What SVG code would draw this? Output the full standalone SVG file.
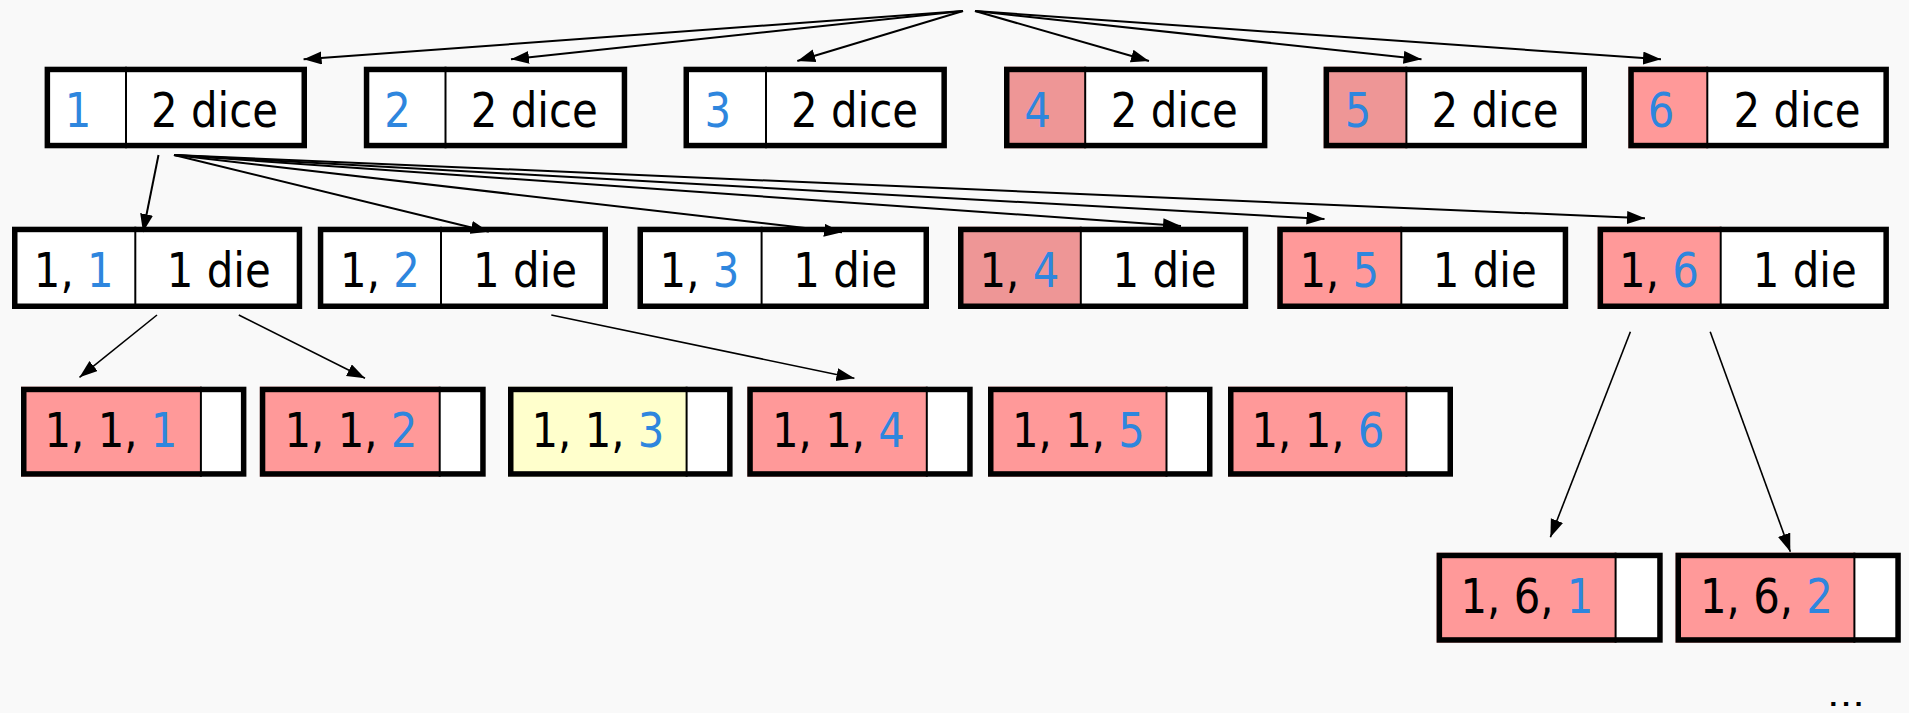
<svg xmlns="http://www.w3.org/2000/svg" width="1909" height="713" viewBox="0 0 1909 713">
<defs>
<marker id="ah" markerUnits="userSpaceOnUse" markerWidth="20" markerHeight="14" refX="18" refY="6.5" orient="auto">
<path d="M0,0 L18,6.5 L0,13 z" fill="#000"/>
</marker>
<style>
.bg{fill:#F9F9F9}
.w{fill:#FFFFFF}
.pk{fill:#FF9999}
.pd{fill:#EE9696}
.yl{fill:#FFFFCC}
.box{fill:none;stroke:#000;stroke-width:5.5;stroke-linejoin:miter}
.dv{stroke:#000;stroke-width:2}
text{font-family:"DejaVu Sans","Liberation Sans",sans-serif;font-size:47.5px;fill:#000;text-anchor:middle}
text.s{text-anchor:start}
.b{fill:#2E86DE}
.c{fill:none;stroke:#000;stroke-width:2;marker-end:url(#ah)}
.c2{fill:none;stroke:#000;stroke-width:1.6;marker-end:url(#ah)}
</style>
</defs>
<rect class="bg" x="0" y="0" width="1909" height="713"/>

<!-- Row 1 -->
<g id="r1n1">
<rect class="w" x="44.6" y="66.7" width="262.4" height="81.6"/>
<line class="dv" x1="126" y1="66.7" x2="126" y2="148.3"/>
<rect class="box" x="47.35" y="69.45" width="256.9" height="76.1"/>
<text class="b" x="78" y="127.3" textLength="26.6" lengthAdjust="spacingAndGlyphs">1</text>
<text x="214.5" y="127.3" textLength="127" lengthAdjust="spacingAndGlyphs">2 dice</text>
</g>
<g id="r1n2">
<rect class="w" x="363.8" y="66.7" width="263.4" height="81.6"/>
<line class="dv" x1="445.5" y1="66.7" x2="445.5" y2="148.3"/>
<rect class="box" x="366.55" y="69.45" width="257.9" height="76.1"/>
<text class="b" x="397.6" y="127.3" textLength="26.6" lengthAdjust="spacingAndGlyphs">2</text>
<text x="534.3" y="127.3" textLength="127" lengthAdjust="spacingAndGlyphs">2 dice</text>
</g>
<g id="r1n3">
<rect class="w" x="683.5" y="66.7" width="263.4" height="81.6"/>
<line class="dv" x1="766" y1="66.7" x2="766" y2="148.3"/>
<rect class="box" x="686.25" y="69.45" width="257.9" height="76.1"/>
<text class="b" x="717.7" y="127.3" textLength="26.6" lengthAdjust="spacingAndGlyphs">3</text>
<text x="854.5" y="127.3" textLength="127" lengthAdjust="spacingAndGlyphs">2 dice</text>
</g>
<g id="r1n4">
<rect class="w" x="1004" y="66.7" width="263.4" height="81.6"/>
<rect class="pd" x="1004" y="66.7" width="81.2" height="81.6"/>
<line class="dv" x1="1085.2" y1="66.7" x2="1085.2" y2="148.3"/>
<rect class="box" x="1006.75" y="69.45" width="257.9" height="76.1"/>
<text class="b" x="1037.6" y="127.3" textLength="26.6" lengthAdjust="spacingAndGlyphs">4</text>
<text x="1174.3" y="127.3" textLength="127" lengthAdjust="spacingAndGlyphs">2 dice</text>
</g>
<g id="r1n5">
<rect class="w" x="1323.6" y="66.7" width="263.4" height="81.6"/>
<rect class="pd" x="1323.6" y="66.7" width="82.8" height="81.6"/>
<line class="dv" x1="1406.4" y1="66.7" x2="1406.4" y2="148.3"/>
<rect class="box" x="1326.35" y="69.45" width="257.9" height="76.1"/>
<text class="b" x="1358" y="127.3" textLength="26.6" lengthAdjust="spacingAndGlyphs">5</text>
<text x="1495" y="127.3" textLength="127" lengthAdjust="spacingAndGlyphs">2 dice</text>
</g>
<g id="r1n6">
<rect class="w" x="1628.3" y="66.7" width="260.6" height="81.6"/>
<rect class="pk" x="1628.3" y="66.7" width="79" height="81.6"/>
<line class="dv" x1="1707.3" y1="66.7" x2="1707.3" y2="148.3"/>
<rect class="box" x="1631.05" y="69.45" width="255.1" height="76.1"/>
<text class="b" x="1661" y="127.3" textLength="26.6" lengthAdjust="spacingAndGlyphs">6</text>
<text x="1797" y="127.3" textLength="127" lengthAdjust="spacingAndGlyphs">2 dice</text>
</g>

<!-- Row 2 -->
<g id="r2n1">
<rect class="w" x="12" y="226.7" width="290.2" height="82.3"/>
<line class="dv" x1="135.3" y1="226.7" x2="135.3" y2="309"/>
<rect class="box" x="14.75" y="229.45" width="284.7" height="76.8"/>
<text class="s" x="33.8" y="286.7" textLength="39.9" lengthAdjust="spacingAndGlyphs">1,</text>
<text class="s b" x="87" y="286.7" textLength="26.6" lengthAdjust="spacingAndGlyphs">1</text>
<text x="218.8" y="286.7" textLength="104" lengthAdjust="spacingAndGlyphs">1 die</text>
</g>
<g id="r2n2">
<rect class="w" x="317.8" y="226.7" width="290.2" height="82.3"/>
<line class="dv" x1="441" y1="226.7" x2="441" y2="309"/>
<rect class="box" x="320.55" y="229.45" width="284.7" height="76.8"/>
<text class="s" x="340.1" y="286.7" textLength="39.9" lengthAdjust="spacingAndGlyphs">1,</text>
<text class="s b" x="393.3" y="286.7" textLength="26.6" lengthAdjust="spacingAndGlyphs">2</text>
<text x="525" y="286.7" textLength="104" lengthAdjust="spacingAndGlyphs">1 die</text>
</g>
<g id="r2n3">
<rect class="w" x="637.5" y="226.7" width="291.5" height="82.3"/>
<line class="dv" x1="761.6" y1="226.7" x2="761.6" y2="309"/>
<rect class="box" x="640.25" y="229.45" width="286" height="76.8"/>
<text class="s" x="659.6" y="286.7" textLength="39.9" lengthAdjust="spacingAndGlyphs">1,</text>
<text class="s b" x="712.8" y="286.7" textLength="26.6" lengthAdjust="spacingAndGlyphs">3</text>
<text x="845.3" y="286.7" textLength="104" lengthAdjust="spacingAndGlyphs">1 die</text>
</g>
<g id="r2n4">
<rect class="w" x="958" y="226.7" width="290.2" height="82.3"/>
<rect class="pd" x="958" y="226.7" width="122.8" height="82.3"/>
<line class="dv" x1="1080.8" y1="226.7" x2="1080.8" y2="309"/>
<rect class="box" x="960.75" y="229.45" width="284.7" height="76.8"/>
<text class="s" x="979.5" y="286.7" textLength="39.9" lengthAdjust="spacingAndGlyphs">1,</text>
<text class="s b" x="1032.7" y="286.7" textLength="26.6" lengthAdjust="spacingAndGlyphs">4</text>
<text x="1164.5" y="286.7" textLength="104" lengthAdjust="spacingAndGlyphs">1 die</text>
</g>
<g id="r2n5">
<rect class="w" x="1277.3" y="226.7" width="290.9" height="82.3"/>
<rect class="pk" x="1277.3" y="226.7" width="124" height="82.3"/>
<line class="dv" x1="1401.3" y1="226.7" x2="1401.3" y2="309"/>
<rect class="box" x="1280.05" y="229.45" width="285.4" height="76.8"/>
<text class="s" x="1299.4" y="286.7" textLength="39.9" lengthAdjust="spacingAndGlyphs">1,</text>
<text class="s b" x="1352.6" y="286.7" textLength="26.6" lengthAdjust="spacingAndGlyphs">5</text>
<text x="1484.7" y="286.7" textLength="104" lengthAdjust="spacingAndGlyphs">1 die</text>
</g>
<g id="r2n6">
<rect class="w" x="1597.6" y="226.7" width="291.3" height="82.3"/>
<rect class="pk" x="1597.6" y="226.7" width="123.1" height="82.3"/>
<line class="dv" x1="1720.7" y1="226.7" x2="1720.7" y2="309"/>
<rect class="box" x="1600.35" y="229.45" width="285.8" height="76.8"/>
<text class="s" x="1619.1" y="286.7" textLength="39.9" lengthAdjust="spacingAndGlyphs">1,</text>
<text class="s b" x="1672.3" y="286.7" textLength="26.6" lengthAdjust="spacingAndGlyphs">6</text>
<text x="1804.8" y="286.7" textLength="104" lengthAdjust="spacingAndGlyphs">1 die</text>
</g>

<!-- Row 3 -->
<g id="r3n1">
<rect class="w" x="21" y="386.7" width="225.4" height="90"/>
<rect class="pk" x="21" y="386.7" width="179.9" height="90"/>
<line class="dv" x1="200.9" y1="386.7" x2="200.9" y2="476.7"/>
<rect class="box" x="23.75" y="389.45" width="219.9" height="84.5"/>
<text class="s" x="44.55" y="446.7" textLength="93" lengthAdjust="spacingAndGlyphs">1, 1,</text>
<text class="s b" x="150.85" y="446.7" textLength="26.6" lengthAdjust="spacingAndGlyphs">1</text>
</g>
<g id="r3n2">
<rect class="w" x="259.8" y="386.7" width="225.9" height="90"/>
<rect class="pk" x="259.8" y="386.7" width="179.9" height="90"/>
<line class="dv" x1="439.7" y1="386.7" x2="439.7" y2="476.7"/>
<rect class="box" x="262.55" y="389.45" width="220.4" height="84.5"/>
<text class="s" x="284.55" y="446.7" textLength="93" lengthAdjust="spacingAndGlyphs">1, 1,</text>
<text class="s b" x="390.85" y="446.7" textLength="26.6" lengthAdjust="spacingAndGlyphs">2</text>
</g>
<g id="r3n3">
<rect class="w" x="508" y="386.7" width="224.6" height="90"/>
<rect class="yl" x="508" y="386.7" width="178.6" height="90"/>
<line class="dv" x1="686.6" y1="386.7" x2="686.6" y2="476.7"/>
<rect class="box" x="510.75" y="389.45" width="219.1" height="84.5"/>
<text class="s" x="531.55" y="446.7" textLength="93" lengthAdjust="spacingAndGlyphs">1, 1,</text>
<text class="s b" x="637.85" y="446.7" textLength="26.6" lengthAdjust="spacingAndGlyphs">3</text>
</g>
<g id="r3n4">
<rect class="w" x="747.3" y="386.7" width="225.4" height="90"/>
<rect class="pk" x="747.3" y="386.7" width="179.5" height="90"/>
<line class="dv" x1="926.8" y1="386.7" x2="926.8" y2="476.7"/>
<rect class="box" x="750.05" y="389.45" width="219.9" height="84.5"/>
<text class="s" x="772.05" y="446.7" textLength="93" lengthAdjust="spacingAndGlyphs">1, 1,</text>
<text class="s b" x="878.35" y="446.7" textLength="26.6" lengthAdjust="spacingAndGlyphs">4</text>
</g>
<g id="r3n5">
<rect class="w" x="988" y="386.7" width="224.5" height="90"/>
<rect class="pk" x="988" y="386.7" width="178.5" height="90"/>
<line class="dv" x1="1166.5" y1="386.7" x2="1166.5" y2="476.7"/>
<rect class="box" x="990.75" y="389.45" width="219" height="84.5"/>
<text class="s" x="1012.05" y="446.7" textLength="93" lengthAdjust="spacingAndGlyphs">1, 1,</text>
<text class="s b" x="1118.35" y="446.7" textLength="26.6" lengthAdjust="spacingAndGlyphs">5</text>
</g>
<g id="r3n6">
<rect class="w" x="1228" y="386.7" width="225" height="90"/>
<rect class="pk" x="1228" y="386.7" width="178.4" height="90"/>
<line class="dv" x1="1406.4" y1="386.7" x2="1406.4" y2="476.7"/>
<rect class="box" x="1230.75" y="389.45" width="219.5" height="84.5"/>
<text class="s" x="1251.55" y="446.7" textLength="93" lengthAdjust="spacingAndGlyphs">1, 1,</text>
<text class="s b" x="1357.85" y="446.7" textLength="26.6" lengthAdjust="spacingAndGlyphs">6</text>
</g>

<!-- Row 4 -->
<g id="r4n1">
<rect class="w" x="1436.6" y="552.7" width="226.1" height="90"/>
<rect class="pk" x="1436.6" y="552.7" width="179" height="90"/>
<line class="dv" x1="1615.6" y1="552.7" x2="1615.6" y2="642.7"/>
<rect class="box" x="1439.35" y="555.45" width="220.6" height="84.5"/>
<text class="s" x="1460.55" y="612.7" textLength="93" lengthAdjust="spacingAndGlyphs">1, 6,</text>
<text class="s b" x="1566.85" y="612.7" textLength="26.6" lengthAdjust="spacingAndGlyphs">1</text>
</g>
<g id="r4n2">
<rect class="w" x="1675.5" y="552.7" width="225.3" height="90"/>
<rect class="pk" x="1675.5" y="552.7" width="178.9" height="90"/>
<line class="dv" x1="1854.4" y1="552.7" x2="1854.4" y2="642.7"/>
<rect class="box" x="1678.25" y="555.45" width="219.8" height="84.5"/>
<text class="s" x="1700.05" y="612.7" textLength="93" lengthAdjust="spacingAndGlyphs">1, 6,</text>
<text class="s b" x="1806.35" y="612.7" textLength="26.6" lengthAdjust="spacingAndGlyphs">2</text>
</g>

<text x="1846" y="705.5" style="font-size:32px" textLength="38" lengthAdjust="spacingAndGlyphs">...</text>

<g id="connectors">
<line class="c" x1="963" y1="11" x2="303.6" y2="59.3"/>
<line class="c" x1="963" y1="11" x2="511" y2="59.3"/>
<line class="c" x1="963" y1="11" x2="797.3" y2="61"/>
<line class="c" x1="975" y1="11" x2="1149" y2="61"/>
<line class="c" x1="975" y1="11" x2="1421.5" y2="59.3"/>
<line class="c" x1="975" y1="11" x2="1661" y2="59.3"/>

<line class="c" x1="158.5" y1="155" x2="143" y2="232"/>
<line class="c" x1="174" y1="155" x2="488.8" y2="231.7"/>
<line class="c" x1="174" y1="155" x2="842" y2="232.3"/>
<line class="c" x1="174" y1="155" x2="1181" y2="226"/>
<line class="c" x1="174" y1="155" x2="1324.5" y2="219"/>
<line class="c" x1="174" y1="155" x2="1645" y2="218.3"/>

<line class="c2" x1="157" y1="315" x2="79.5" y2="377.3"/>
<line class="c2" x1="238.8" y1="315" x2="365" y2="378.3"/>
<line class="c2" x1="551.3" y1="315" x2="854.4" y2="378.3"/>

<line class="c2" x1="1630.4" y1="331.7" x2="1550.4" y2="537.3"/>
<line class="c2" x1="1710.2" y1="331.7" x2="1790.3" y2="551.7"/>
</g>
</svg>
